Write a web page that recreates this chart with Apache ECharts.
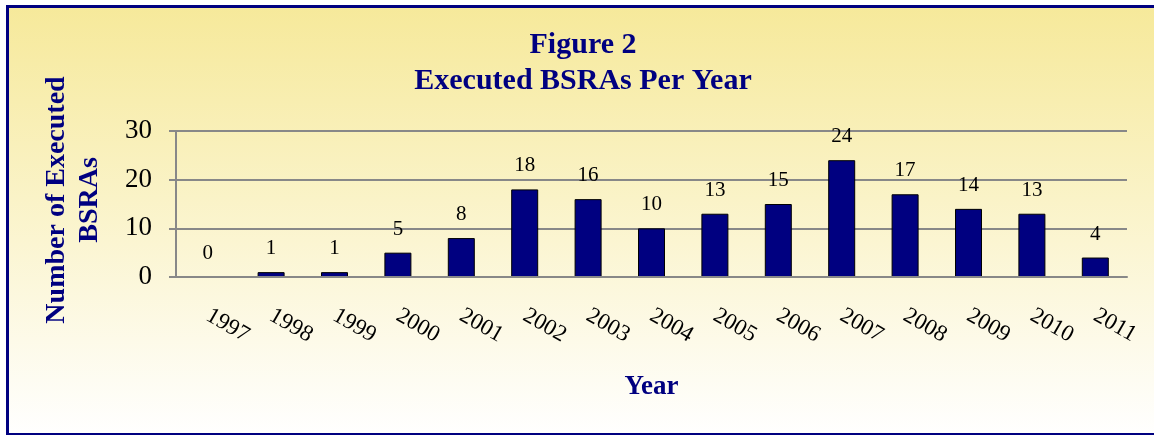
<!DOCTYPE html>
<html>
<head>
<meta charset="utf-8">
<script src="https://cdn.jsdelivr.net/npm/echarts@6/dist/echarts.min.js"></script>
<style>
html,body{margin:0;padding:0;background:#fff;}
#chart{width:1154px;height:435px;}
</style>
</head>
<body>
<div id="chart"></div>
<script>
const years = ['1997','1998','1999','2000','2001','2002','2003','2004','2005','2006','2007','2008','2009','2010','2011'];
const executed = [0,1,1,5,8,18,16,10,13,15,24,17,14,13,4];
const yTicks = [0,10,20,30];

const serif = '"Liberation Serif", "DejaVu Serif", serif';
const navy = '#000080';
const chart = echarts.init(document.getElementById('chart'));
chart.setOption({
  animation: false,
  graphic: [{
    type: 'rect', z: -10, silent: true,
    shape: {x: 7.5, y: 6.5, width: 1160, height: 428},
    style: {
      fill: {type: 'linear', x: 0, y: 0, x2: 0, y2: 1, colorStops: [
        {offset: 0, color: '#F6E99A'}, {offset: 1, color: '#FFFFFF'}]},
      stroke: navy, lineWidth: 3
    }
  }],
  title: {
    text: 'Figure 2\nExecuted BSRAs Per Year',
    left: 578, top: 22, textAlign: 'center',
    textStyle: {fontFamily: serif, fontWeight: 'bold', fontSize: 30, lineHeight: 36, color: navy}
  },
  grid: {left: 176, right: 27, top: 131, bottom: 158, containLabel: false},
  xAxis: {
    type: 'category', data: years, z: 3,
    name: 'Year', nameLocation: 'middle', nameGap: 97,
    nameTextStyle: {fontFamily: serif, fontWeight: 'bold', fontSize: 27, color: navy},
    axisLine: {lineStyle: {color: '#888888', width: 2}},
    axisTick: {show: false},
    axisLabel: {rotate: -30, margin: 37, fontFamily: serif, fontSize: 23, color: '#000'}
  },
  yAxis: {
    type: 'value', min: yTicks[0], max: yTicks[yTicks.length-1], interval: 10,
    name: 'Number of Executed\nBSRAs', nameLocation: 'middle', nameRotate: 90, nameGap: 70,
    nameTextStyle: {fontFamily: serif, fontWeight: 'bold', fontSize: 28, lineHeight: 33, color: navy, padding: [0, 0, 0, 8]},
    axisLine: {show: true, lineStyle: {color: '#888888', width: 2}},
    axisTick: {show: true, length: 7, lineStyle: {color: '#888888', width: 2}},
    splitLine: {lineStyle: {color: '#888888', width: 2}},
    axisLabel: {margin: 24, fontFamily: serif, fontSize: 27, color: '#000'}
  },
  series: [{
    type: 'bar', data: executed, barWidth: 27,
    itemStyle: {color: navy, borderColor: '#000', borderWidth: 1},
    label: {show: true, position: 'top', distance: 13, fontFamily: serif, fontSize: 21, color: '#000'}
  }]
});
</script>
</body>
</html>
